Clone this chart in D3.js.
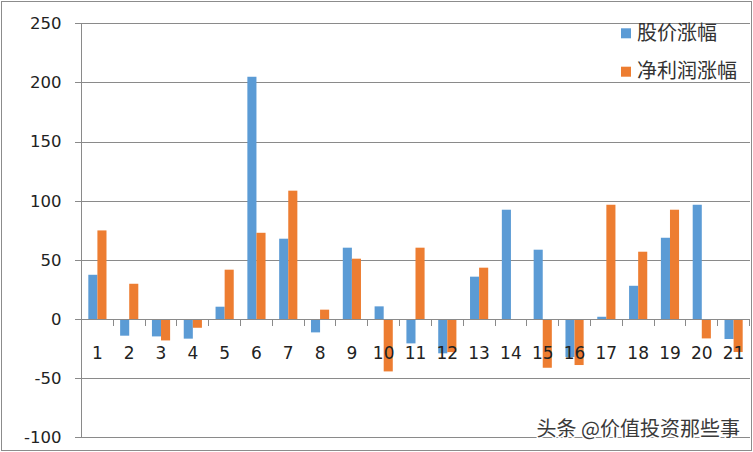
<!DOCTYPE html>
<html>
<head>
<meta charset="utf-8">
<script src="https://cdn.jsdelivr.net/npm/d3@7"></script>
<style>
  html, body { margin: 0; padding: 0; background: #fff; }
  svg { display: block; }
  .tick-label { font-family: "DejaVu Sans", sans-serif; fill: #222; }
  .legend-label, .watermark { font-family: "Noto Sans CJK SC", sans-serif; }
</style>
</head>
<body>
<svg id="chart" width="753" height="452"></svg>
<script>
// categories 1..21
const categories = ['1', '2', '3', '4', '5', '6', '7', '8', '9', '10', '11',
  '12', '13', '14', '15', '16', '17', '18', '19', '20', '21'];
const seriesNames = ['股价涨幅', '净利润涨幅'];
// 股价涨幅
const priceChange = [37.4, -14.1, -14.7, -16.6, 10.4, 204.8, 67.9, -11.3, 60.3, 10.7, -20.6,
  -29, 35.8, 92.4, 58.6, -32.1, 1.9, 28.1, 68.7, 96.6, -16.9];
// 净利润涨幅
const profitChange = [74.9, 29.8, -18.1, -7.4, 41.7, 72.9, 108.5, 7.9, 51, -44.3, 60.3,
  -28, 43.4, 0, -41.2, -38.9, 96.6, 56.9, 92.4, -16.4, -27.9];
const yTicks = [-100, -50, 0, 50, 100, 150, 200, 250];
const watermarkText = '头条 @价值投资那些事';

const svg = d3.select('#chart');
const DIMENSIONS = {
  left: 81.5,
  right: 749.5,
  top: 23.3,
  bottom: 437.3
};
const colors = ['#5B9BD5', '#ED7D31'];
const gridColor = '#8a8a8a';

// outer chart border
svg.append('rect')
  .attr('x', 1.5).attr('y', 1.5)
  .attr('width', 750).attr('height', 449)
  .attr('fill', 'none')
  .attr('stroke', '#8c8c8c');

const yScale = d3.scaleLinear()
  .domain([-100, 250])
  .range([DIMENSIONS.bottom, DIMENSIONS.top]);

// gap width 150% like the spreadsheet
const xScale = d3.scaleBand()
  .domain(categories)
  .range([DIMENSIONS.left, DIMENSIONS.right])
  .paddingInner(1.5 / 3.5)
  .paddingOuter(0.75 / 3.5);

const xSub = d3.scaleBand()
  .domain(seriesNames)
  .range([0, xScale.bandwidth()]);

// gridlines + y axis (plain hyphen for negatives)
const yAxis = d3.axisLeft(yScale)
  .tickValues(yTicks)
  .tickSize(-(DIMENSIONS.right - DIMENSIONS.left))
  .tickPadding(20)
  .tickFormat((d) => String(d));

const yG = svg.append('g')
  .attr('id', 'y-axis')
  .attr('transform', `translate(${DIMENSIONS.left},0)`)
  .call(yAxis);
yG.select('.domain').remove();
yG.selectAll('.tick line')
  .attr('x1', -7)
  .attr('stroke', gridColor)
  .attr('shape-rendering', 'crispEdges');
yG.selectAll('.tick text')
  .attr('class', 'tick-label')
  .attr('x', -20)
  .attr('font-size', 16.5);

// vertical axis line
svg.append('line')
  .attr('x1', DIMENSIONS.left).attr('x2', DIMENSIONS.left)
  .attr('y1', DIMENSIONS.top).attr('y2', DIMENSIONS.bottom)
  .attr('stroke', gridColor)
  .attr('shape-rendering', 'crispEdges');

// bars
const rows = categories.map((c, i) => ({ cat: c, values: [priceChange[i], profitChange[i]] }));
svg.append('g')
  .attr('id', 'bars')
  .selectAll('g')
  .data(rows)
  .join('g')
  .attr('transform', (d) => `translate(${xScale(d.cat)},0)`)
  .selectAll('rect')
  .data((d) => d.values.map((v, j) => ({ name: seriesNames[j], value: v, idx: j })))
  .join('rect')
  .attr('x', (d) => xSub(d.name))
  .attr('width', xSub.bandwidth())
  .attr('y', (d) => yScale(Math.max(0, d.value)))
  .attr('height', (d) => Math.abs(yScale(d.value) - yScale(0)))
  .attr('fill', (d) => colors[d.idx]);

// category axis on zero line, with boundary ticks
const zeroY = yScale(0);
const step = xScale.step();
svg.append('g')
  .attr('id', 'x-ticks')
  .selectAll('line')
  .data(categories)
  .join('line')
  .attr('x1', (d) => xScale(d) - xScale.paddingOuter() * step + step)
  .attr('x2', (d) => xScale(d) - xScale.paddingOuter() * step + step)
  .attr('y1', zeroY)
  .attr('y2', zeroY + 7)
  .attr('stroke', gridColor)
  .attr('shape-rendering', 'crispEdges');

svg.append('line')
  .attr('x1', DIMENSIONS.left).attr('x2', DIMENSIONS.right)
  .attr('y1', zeroY).attr('y2', zeroY)
  .attr('stroke', gridColor)
  .attr('shape-rendering', 'crispEdges');

svg.append('g')
  .attr('id', 'x-labels')
  .selectAll('text')
  .data(categories)
  .join('text')
  .attr('class', 'tick-label')
  .attr('x', (d) => xScale(d) + xScale.bandwidth() / 2)
  .attr('y', zeroY + 40)
  .attr('text-anchor', 'middle')
  .attr('font-size', 17)
  .text((d) => d);

// legend
const legend = svg.append('g')
  .attr('id', 'legend')
  .selectAll('g')
  .data(seriesNames)
  .join('g')
  .attr('transform', (d, i) => `translate(621,${28.3 + i * 38.4})`);
legend.append('rect')
  .attr('width', 10).attr('height', 10)
  .attr('fill', (d, i) => colors[i]);
legend.append('text')
  .attr('class', 'legend-label')
  .attr('x', 16)
  .attr('y', 11.5)
  .attr('font-size', 20)
  .attr('fill', '#333')
  .text((d) => d);

// watermark
svg.append('text')
  .attr('class', 'watermark')
  .attr('x', 740)
  .attr('y', 436)
  .attr('text-anchor', 'end')
  .attr('font-size', 20)
  .attr('fill', '#3a3a3a')
  .attr('stroke', '#fff')
  .attr('stroke-width', 3)
  .attr('paint-order', 'stroke')
  .text(watermarkText);
</script>
</body>
</html>
